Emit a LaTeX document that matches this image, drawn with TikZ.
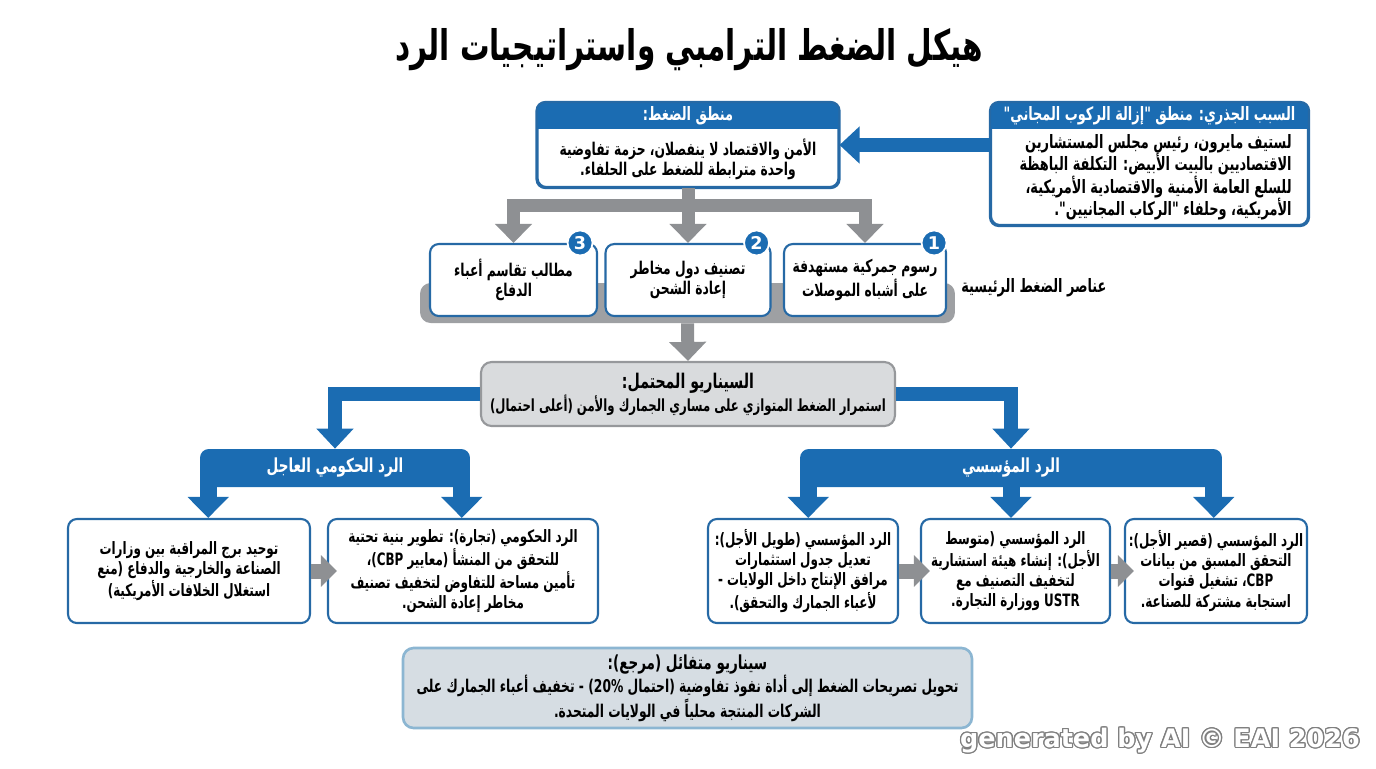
\documentclass[tikz,border=0pt]{standalone}
\usepackage{fontspec}
\usepackage{xcolor}
\usepackage{contour}
\usetikzlibrary{arrows.meta,positioning,calc}
\TeXXeTstate=1
\setmainfont{DejaVu Sans}
\newfontfamily\arabicfont[Script=Arabic,FakeStretch=0.70]{DejaVu Sans}
\definecolor{hdrblue}{RGB}{27,108,178}
\definecolor{edgeblue}{RGB}{38,105,165}
\definecolor{arrowgray}{RGB}{142,144,147}
\definecolor{platgray}{RGB}{158,160,163}
\definecolor{scengray}{RGB}{217,219,221}
\definecolor{scenedge}{RGB}{150,152,155}
\definecolor{optfill}{RGB}{214,221,227}
\definecolor{optedge}{RGB}{140,182,210}
\newcommand{\arl}[1]{\beginR #1\endR}
\newcommand{\lat}[1]{\beginL #1\endL}
\newcommand{\tightlines}{\lineskiplimit=-20pt\relax}
\contourlength{0.7pt}

\begin{document}
\begin{tikzpicture}[
        x=0.02cm, y=-0.02cm,
        panel/.style={rectangle, rounded corners=5pt, draw=edgeblue, line width=1.2pt, fill=white},
        txt/.style={font=\arabicfont\bfseries\fontsize{10}{11.4}\selectfont, align=center, inner sep=0pt, text=black},
        box/.style={panel, txt},
        lowbox/.style={panel, txt, font=\arabicfont\bfseries\fontsize{9.7}{11.4}\selectfont, minimum height=2.08cm},
        hdrtxt/.style={txt, text=white, font=\arabicfont\bfseries\fontsize{10.5}{12}\selectfont},
        band/.style={rectangle, rounded corners=5pt, fill=hdrblue, minimum height=0.76cm, inner sep=0pt, hdrtxt, font=\arabicfont\bfseries\fontsize{11}{12}\selectfont},
        badge/.style={circle, fill=hdrblue, draw=white, line width=1pt, minimum size=0.5cm, inner sep=0pt, text=white, font=\bfseries\fontsize{10}{10}\selectfont},
        plat/.style={rectangle, rounded corners=6pt, fill=platgray, minimum width=10.7cm, minimum height=0.8cm},
        scen/.style={rectangle, rounded corners=6pt, draw=scenedge, line width=1.2pt, fill=scengray, txt, font=\arabicfont\bfseries\fontsize{9.5}{11.4}\selectfont, minimum width=8.28cm, minimum height=1.28cm},
        optbox/.style={rectangle, rounded corners=6pt, draw=optedge, line width=1.5pt, fill=optfill, txt, minimum width=11.38cm, minimum height=1.6cm},
        grayline/.style={draw=arrowgray, line width=0.26cm},
        grayarrow/.style={grayline, -{Triangle[width=0.72cm, length=0.38cm]}},
        sidearrow/.style={draw=arrowgray, line width=0.3cm, -{Triangle[width=0.62cm, length=0.32cm]}},
        bluearrow/.style={draw=hdrblue, line width=0.28cm, -{Triangle[width=0.72cm, length=0.4cm]}},
        legarrow/.style={draw=hdrblue, line width=0.34cm, -{Triangle[width=0.8cm, length=0.42cm]}}
    ]
    \useasboundingbox (0,0) rectangle (1376,768);

    % Title
    \node[txt, font=\arabicfont\bfseries\fontsize{24}{28}\selectfont] (title) at (689,50) {\arl{هيكل الضغط الترامبي واستراتيجيات الرد}};

    % Root cause panel
    \node[panel, minimum width=6.34cm, minimum height=2.44cm] (root) at (1149.5,164) {};
    \begin{scope}
        \clip[rounded corners=5pt] (root.south west) rectangle (root.north east);
        \fill[hdrblue] (root.north west) rectangle ([yshift=-0.54cm]root.north east);
    \end{scope}
    \draw[edgeblue, line width=1.2pt, rounded corners=5pt] (root.south west) rectangle (root.north east);
    \node[hdrtxt] (roothead) at ([yshift=-0.27cm]root.north) {\arl{السبب الجذري: منطق "إزالة الركوب المجاني"}};
    \node[txt, font=\arabicfont\bfseries\fontsize{10.5}{12.8}\selectfont\tightlines, align=right, anchor=east] (rootbody) at (1292,177) {\arl{لستيف مايرون، رئيس مجلس المستشارين}\\ \arl{الاقتصاديين بالبيت الأبيض: التكلفة الباهظة}\\ \arl{للسلع العامة الأمنية والاقتصادية الأمريكية،}\\ \arl{الأمريكية، وحلفاء "الركاب المجانيين".}};

    % Pressure logic panel
    \node[panel, minimum width=6.02cm, minimum height=1.68cm] (logic) at (688,145) {};
    \begin{scope}
        \clip[rounded corners=5pt] (logic.south west) rectangle (logic.north east);
        \fill[hdrblue] (logic.north west) rectangle ([yshift=-0.54cm]logic.north east);
    \end{scope}
    \draw[edgeblue, line width=1.2pt, rounded corners=5pt] (logic.south west) rectangle (logic.north east);
    \node[hdrtxt] (logichead) at ([yshift=-0.27cm]logic.north) {\arl{منطق الضغط:}};
    \node[txt] (logicbody) at (688,159) {\arl{الأمن والاقتصاد لا ينفصلان، حزمة تفاوضية}\\ \arl{واحدة مترابطة للضغط على الحلفاء.}};

    \draw[bluearrow] (logic.east -| root.west) -- (logic.east);

    % Key pressure elements
    \node[plat] (plat) at (687.5,303) {};
    \node[box, minimum width=3.34cm, minimum height=1.44cm] (el3) at (513.5,280) {\arl{مطالب تقاسم أعباء}\\ \arl{الدفاع}};
    \node[box, minimum width=3.3cm, minimum height=1.44cm] (el2) at (688,280) {\arl{تصنيف دول مخاطر}\\ \arl{إعادة الشحن}};
    \node[box, minimum width=3.24cm, minimum height=1.44cm] (el1) at (865,280) {\arl{رسوم جمركية مستهدفة}\\ \arl{على أشباه الموصلات}};
    \node[badge] (b3) at ([xshift=-0.36cm]el3.north east) {3};
    \node[badge] (b2) at ([xshift=-0.3cm]el2.north east) {2};
    \node[badge] (b1) at ([xshift=-0.26cm]el1.north east) {1};
    \node[txt, font=\arabicfont\bfseries\fontsize{10.5}{12}\selectfont, anchor=west] (platlabel) at (961,288) {\arl{عناصر الضغط الرئيسية}};

    \coordinate (fork) at (688,205);
    \draw[grayarrow] (logic.south) -- (el2.north);
    \draw[grayarrow] (fork) -| (el3.north);
    \draw[grayarrow] (fork) -| (el1.north);

    % Likely scenario
    \node[scen] (scen) at (688,394) {{\fontsize{11.5}{13}\selectfont\arl{السيناريو المحتمل:}}\\ \arl{استمرار الضغط المتوازي على مساري الجمارك والأمن (أعلى احتمال)}};
    \draw[grayarrow] (plat.south) -- (scen.north);

    % Responses
    \node[band, minimum width=5.4cm] (govhead) at (335,468) {\arl{الرد الحكومي العاجل}};
    \node[band, minimum width=8.44cm] (insthead) at (1011,468) {\arl{الرد المؤسسي}};
    \draw[bluearrow] (scen.west) -| (govhead.north);
    \draw[bluearrow] (scen.east) -| (insthead.north);

    \node[lowbox, minimum width=4.84cm] (govl) at (189,571) {\arl{توحيد برج المراقبة بين وزارات}\\ \arl{الصناعة والخارجية والدفاع (منع}\\ \arl{استغلال الخلافات الأمريكية)}};
    \node[lowbox, minimum width=5.4cm] (govr) at (463,571) {\arl{الرد الحكومي (تجارة): تطوير بنية تحتية}\\ \arl{للتحقق من المنشأ (معايير \lat{CBP})،}\\ \arl{تأمين مساحة للتفاوض لتخفيف تصنيف}\\ \arl{مخاطر إعادة الشحن.}};
    \node[lowbox, minimum width=3.8cm] (instl) at (803,571) {\arl{الرد المؤسسي (طويل الأجل):}\\ \arl{تعديل جدول استثمارات}\\ \arl{مرافق الإنتاج داخل الولايات -}\\ \arl{لأعباء الجمارك والتحقق).}};
    \node[lowbox, minimum width=3.78cm] (instm) at (1015.5,571) {\arl{الرد المؤسسي (متوسط}\\ \arl{الأجل): إنشاء هيئة استشارية}\\ \arl{لتخفيف التصنيف مع}\\ \arl{\lat{USTR} ووزارة التجارة.}};
    \node[lowbox, minimum width=3.64cm] (instr) at (1216,571) {\arl{الرد المؤسسي (قصير الأجل):}\\ \arl{التحقق المسبق من بيانات}\\ \arl{\lat{CBP}، تشغيل قنوات}\\ \arl{استجابة مشتركة للصناعة.}};

    \coordinate (govlegl) at ([xshift=0.17cm, yshift=0.2cm]govhead.south west);
    \coordinate (govlegr) at ([xshift=-0.17cm, yshift=0.2cm]govhead.south east);
    \coordinate (instlegl) at ([xshift=0.17cm, yshift=0.2cm]insthead.south west);
    \coordinate (instlegm) at ([yshift=0.2cm]insthead.south);
    \coordinate (instlegr) at ([xshift=-0.17cm, yshift=0.2cm]insthead.south east);
    \draw[legarrow] (govlegl) -- (govlegl |- govl.north);
    \draw[legarrow] (govlegr) -- (govlegr |- govr.north);
    \draw[legarrow] (instlegl) -- (instlegl |- instl.north);
    \draw[legarrow] (instlegm) -- (instlegm |- instm.north);
    \draw[legarrow] (instlegr) -- (instlegr |- instr.north);

    \draw[sidearrow] (govl.east) -- ([xshift=0.2cm]govr.west);
    \draw[sidearrow] (instl.east) -- ([xshift=0.2cm]instm.west);
    \draw[sidearrow] (instm.east) -- ([xshift=0.2cm]instr.west);

    % Optimistic scenario
    \node[optbox] (opt) at (687.5,688) {{\fontsize{11}{13}\selectfont\arl{سيناريو متفائل (مرجع):}}\\ \arl{تحويل تصريحات الضغط إلى أداة نفوذ تفاوضية (احتمال \lat{20\%}) - تخفيف أعباء الجمارك على}\\ \arl{الشركات المنتجة محلياً في الولايات المتحدة.}};

    \node[font=\bfseries\fontsize{14.5}{15}\selectfont] (mark) at (1160,741) {\contour{gray}{\textcolor{white}{generated by AI © EAI 2026}}};
\end{tikzpicture}
\end{document}
